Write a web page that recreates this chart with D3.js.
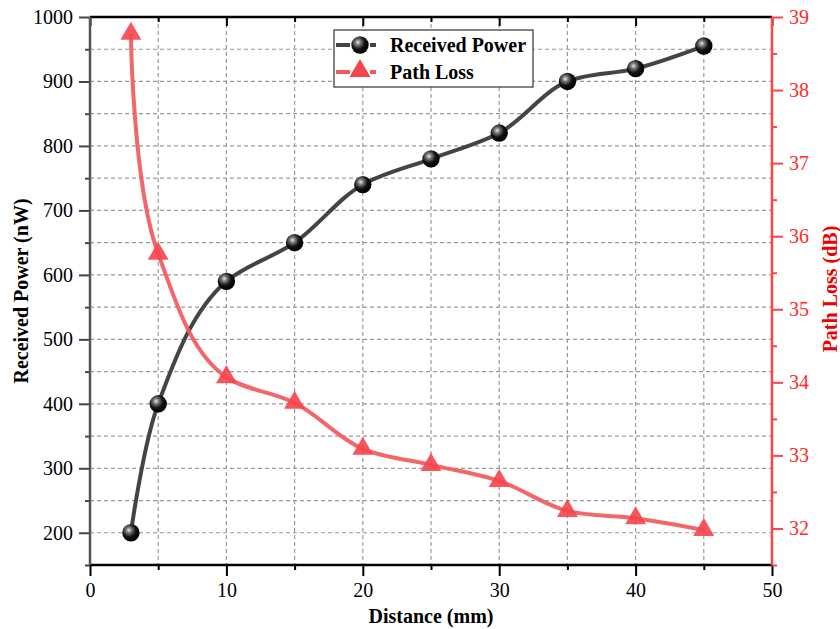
<!DOCTYPE html>
<html><head><meta charset="utf-8">
<script src="https://cdn.jsdelivr.net/npm/d3@7"></script>
<style>
body{margin:0;background:#fff;}
svg text{font-family:'Liberation Serif','Times New Roman',serif !important;}
</style></head>
<body><svg id="c" width="840" height="629"></svg>
<script>
const distance = [3,5,10,15,20,25,30,35,40,45];
const receivedPower = [200,400,590,650,740,780,820,900,920,955];
const pathLoss = [38.77,35.76,34.07,33.72,33.09,32.87,32.65,32.24,32.14,31.98];
const xTicks = [0,10,20,30,40,50];
const leftTicks = [200,300,400,500,600,700,800,900,1000];
const rightTicks = [32,33,34,35,36,37,38,39];
const seriesNames = ["Received Power","Path Loss"];

const svg = d3.select("#c");
const L=90,R=772,T=17,B=565;
const x = d3.scaleLinear().domain([0,50]).range([L,R]);
const yL = d3.scaleLinear().domain([150,1000]).range([B,T]);
const yR = d3.scaleLinear().domain([31.5,39]).range([B,T]);

const defs = svg.append("defs");
const g = defs.append("radialGradient").attr("id","ball").attr("cx","0.38").attr("cy","0.35").attr("r","0.65");
g.append("stop").attr("offset","0").attr("stop-color","#e8e8e8");
g.append("stop").attr("offset","0.25").attr("stop-color","#777");
g.append("stop").attr("offset","0.6").attr("stop-color","#111");
g.append("stop").attr("offset","1").attr("stop-color","#000");

// grid
const grid = svg.append("g").attr("stroke","#999").attr("stroke-width",1.2).attr("stroke-dasharray","4,3");
d3.range(5,50,5).forEach(v=>grid.append("line").attr("x1",x(v)).attr("x2",x(v)).attr("y1",T).attr("y2",B));
d3.range(200,1000,50).forEach(v=>grid.append("line").attr("x1",L).attr("x2",R).attr("y1",yL(v)).attr("y2",yL(v)));

function styleAxis(sel,color){
  sel.attr("font-family","Liberation Serif");
  sel.select(".domain").remove();
  sel.selectAll("line").attr("stroke",color).attr("stroke-width",2);
  sel.selectAll("text").attr("fill",color).attr("font-family","Liberation Serif").style("font-size","20px");
}
// bottom axis
const bx = svg.append("g").attr("transform",`translate(0,${B})`)
  .call(d3.axisBottom(x).tickValues(xTicks).tickSize(11).tickPadding(7).tickFormat(d3.format("d")));
styleAxis(bx,"#000");
const bxm = svg.append("g").attr("transform",`translate(0,${B})`)
  .call(d3.axisBottom(x).tickValues(d3.range(5,50,10)).tickSize(5).tickFormat(""));
styleAxis(bxm,"#000");
// top axis (inward ticks)
const tx = svg.append("g").attr("transform",`translate(0,${T})`)
  .call(d3.axisBottom(x).tickValues(xTicks).tickSize(9).tickFormat(""));
styleAxis(tx,"#000");
const txm = svg.append("g").attr("transform",`translate(0,${T})`)
  .call(d3.axisBottom(x).tickValues(d3.range(5,50,10)).tickSize(5).tickFormat(""));
styleAxis(txm,"#000");
// left axis
const lx = svg.append("g").attr("transform",`translate(${L},0)`)
  .call(d3.axisLeft(yL).tickValues(leftTicks).tickSize(11).tickPadding(6).tickFormat(d3.format("d")));
styleAxis(lx,"#000");
lx.selectAll("line").attr("stroke","#444");
const lxm = svg.append("g").attr("transform",`translate(${L},0)`)
  .call(d3.axisLeft(yL).tickValues(d3.range(150,1000,100)).tickSize(5).tickFormat(""));
styleAxis(lxm,"#444");
// right axis
const rx = svg.append("g").attr("transform",`translate(${R},0)`)
  .call(d3.axisRight(yR).tickValues(rightTicks).tickSize(11).tickPadding(6).tickFormat(d3.format("d")));
styleAxis(rx,"#f44");
rx.selectAll("text").attr("fill","#ff2a2a");
const rxm = svg.append("g").attr("transform",`translate(${R},0)`)
  .call(d3.axisRight(yR).tickValues(d3.range(31.5,39,1)).tickSize(5).tickFormat(""));
styleAxis(rxm,"#f44");

// axis lines
svg.append("line").attr("x1",L).attr("x2",R).attr("y1",B).attr("y2",B).attr("stroke","#000").attr("stroke-width",2.5);
svg.append("line").attr("x1",L).attr("x2",R).attr("y1",T).attr("y2",T).attr("stroke","#000").attr("stroke-width",2.5);
svg.append("line").attr("x1",L).attr("x2",L).attr("y1",T).attr("y2",B).attr("stroke","#555").attr("stroke-width",2.5);
svg.append("line").attr("x1",R).attr("x2",R).attr("y1",T).attr("y2",B).attr("stroke","#f44").attr("stroke-width",2.5);

// titles
svg.append("text").attr("x",(L+R)/2).attr("y",623).attr("text-anchor","middle")
  .style("font-size","20px").style("font-weight","bold").attr("fill","#000").text("Distance (mm)");
svg.append("text").attr("transform","translate(28,291) rotate(-90)").attr("text-anchor","middle")
  .style("font-size","20px").style("font-weight","bold").attr("fill","#000").text("Received Power (nW)");
svg.append("text").attr("transform","translate(837,289) rotate(-90)").attr("text-anchor","middle")
  .style("font-size","20px").style("font-weight","bold").attr("fill","#ee0000").text("Path Loss (dB)");

// lines
const pwr = distance.map((d,i)=>[x(d),yL(receivedPower[i])]);
const pl = distance.map((d,i)=>[x(d),yR(pathLoss[i])]);
const line = d3.line().curve(d3.curveCatmullRom.alpha(1));
svg.append("path").attr("d",line(pwr)).attr("fill","none").attr("stroke","#444").attr("stroke-width",4);
svg.append("path").attr("d",line(pl)).attr("fill","none").attr("stroke","#f25a5e").attr("stroke-width",4).attr("stroke-opacity",0.92);

const tri = d3.symbol().type(d3.symbolTriangle).size(190);
svg.append("g").selectAll("path").data(pl).join("path")
  .attr("transform",d=>`translate(${d[0]},${d[1]})`).attr("d",tri).attr("fill","#f5454d").attr("fill-opacity",0.9);
svg.append("g").selectAll("circle").data(pwr).join("circle")
  .attr("cx",d=>d[0]).attr("cy",d=>d[1]).attr("r",8.7).attr("fill","url(#ball)");

// legend
const lg = svg.append("g");
lg.append("rect").attr("x",334).attr("y",30).attr("width",199).attr("height",57)
  .attr("fill","#fff").attr("stroke","#333").attr("stroke-width",1.2);
lg.append("line").attr("x1",336).attr("x2",384).attr("y1",45).attr("y2",45).attr("stroke","#444").attr("stroke-width",4).attr("stroke-dasharray","14,6,0,14,6");
lg.append("line").attr("x1",336).attr("x2",384).attr("y1",72).attr("y2",72).attr("stroke","#f25a5e").attr("stroke-width",4).attr("stroke-dasharray","14,6,0,14,6");
lg.append("circle").attr("cx",360).attr("cy",45).attr("r",8.7).attr("fill","url(#ball)");
lg.append("path").attr("transform","translate(360,71)").attr("d",tri).attr("fill","#f5454d");
lg.selectAll("text.lt").data(seriesNames).join("text").attr("class","lt")
  .attr("x",390).attr("y",(d,i)=>45+i*27+7).style("font-size","20px").style("font-weight","bold").attr("fill","#000").text(d=>d);
</script></body></html>
